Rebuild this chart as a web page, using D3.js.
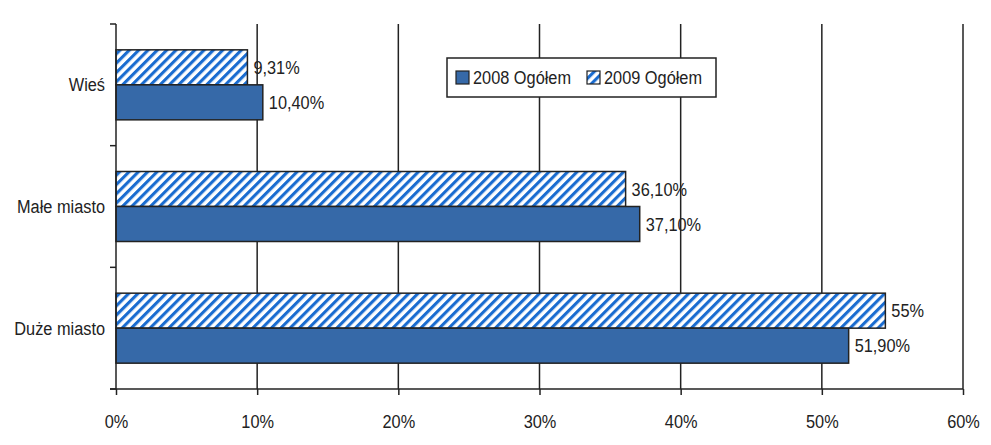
<!DOCTYPE html>
<html><head><meta charset="utf-8">
<script src="https://cdn.jsdelivr.net/npm/d3@7"></script>
<style>body{margin:0;background:#fff}svg{display:block;font-family:Arial,"Liberation Sans",sans-serif}</style>
</head><body><svg id="c" width="991" height="445"></svg>
<script>
const categories = ["Wieś", "Małe miasto", "Duże miasto"];
const seriesNames = ["2008 Ogółem", "2009 Ogółem"];
const values2008 = [10.40, 37.10, 51.90];
const values2009 = [9.31, 36.10, 54.5];
const labels2008 = ["10,40%", "37,10%", "51,90%"];
const labels2009 = ["9,31%", "36,10%", "55%"];
const xTicks = [0, 10, 20, 30, 40, 50, 60];

const FS = 19, SX = 0.86;
const svg = d3.select("#c");
const m = {l:116, r:963, t:24, b:389};
const x = d3.scaleLinear().domain([0,60]).range([m.l, m.r]);
const y = d3.scaleBand().domain(categories).range([m.t, m.b]);
const inner = d3.scaleBand().domain(["2009","2008"]).range([0, 70]);
const solid = "#3669a8", stripe = "#1a6cd0", ink = "#222";

// condensed text helper
function txt(parent, tx, ty, s, anchor) {
  return parent.append("text").attr("transform", `translate(${tx},${ty}) scale(${SX},1)`)
    .attr("dy","0.35em").attr("text-anchor", anchor || "start")
    .attr("font-size",FS).attr("fill",ink).text(s);
}

const defs = svg.append("defs");
const pat = defs.append("pattern").attr("id","hatch").attr("patternUnits","userSpaceOnUse")
  .attr("width",6.6).attr("height",6.6).attr("patternTransform","rotate(45)");
pat.append("rect").attr("width",6.6).attr("height",6.6).attr("fill","#fff");
pat.append("rect").attr("width",3.1).attr("height",6.6).attr("fill",stripe);

// gridlines
svg.append("g").selectAll("line").data(xTicks.slice(1)).join("line")
  .attr("x1",d=>x(d)).attr("x2",d=>x(d)).attr("y1",m.t).attr("y2",m.b)
  .attr("stroke",ink).attr("stroke-width",1.5);

// bars
const rows = categories.map((c,i)=>({c, v08:values2008[i], v09:values2009[i], l08:labels2008[i], l09:labels2009[i]}));
const g = svg.append("g");
rows.forEach(r=>{
  const top = y(r.c) + (y.bandwidth()-70)/2;
  [["2009", r.v09, r.l09, "url(#hatch)"], ["2008", r.v08, r.l08, solid]].forEach(([k,v,l,f])=>{
    const yy = top + inner(k);
    g.append("rect").attr("x",x(0)).attr("y",yy).attr("width",x(v)-x(0)).attr("height",inner.bandwidth())
      .attr("fill",f).attr("stroke",ink).attr("stroke-width",1.5);
    txt(g, x(v)+6, yy+inner.bandwidth()/2, l);
  });
});

// y axis
svg.append("line").attr("x1",m.l).attr("x2",m.l).attr("y1",m.t).attr("y2",m.b).attr("stroke",ink).attr("stroke-width",1.5);
const yTickPos = [m.t, ...categories.map(c=>y(c)+y.bandwidth())];
svg.append("g").selectAll("line").data(yTickPos).join("line")
  .attr("x1",m.l-6).attr("x2",m.l).attr("y1",d=>d).attr("y2",d=>d).attr("stroke",ink).attr("stroke-width",1.5);
const yl = svg.append("g");
categories.forEach(c=>txt(yl, m.l-11, y(c)+y.bandwidth()/2, c, "end"));

// x axis
const xa = svg.append("g").attr("transform",`translate(0,${m.b})`)
  .call(d3.axisBottom(x).tickValues(xTicks).tickFormat(d=>d+"%").tickSize(6).tickSizeOuter(0));
xa.select(".domain").attr("d",`M${m.l-6},0H${m.r}`).attr("stroke",ink).attr("stroke-width",1.5);
xa.selectAll(".tick line").attr("stroke",ink).attr("stroke-width",1.5);
xa.selectAll(".tick text").attr("font-size",FS).attr("fill",ink).attr("font-family","Arial, 'Liberation Sans', sans-serif")
  .attr("y",null).attr("dy","0.35em").attr("transform",`translate(0,32) scale(${SX},1)`);

// legend
const lg = svg.append("g").attr("transform","translate(447,58)");
lg.append("rect").attr("width",269).attr("height",39).attr("fill","#fff").attr("stroke",ink).attr("stroke-width",1.5);
const items = [[seriesNames[0], solid, 9], [seriesNames[1], "url(#hatch)", 140]];
items.forEach(([n,f,ox])=>{
  lg.append("rect").attr("x",ox).attr("y",13).attr("width",13).attr("height",13).attr("fill",f).attr("stroke",ink).attr("stroke-width",1.2);
  txt(lg, ox+17, 19.5, n);
});
</script></body></html>
